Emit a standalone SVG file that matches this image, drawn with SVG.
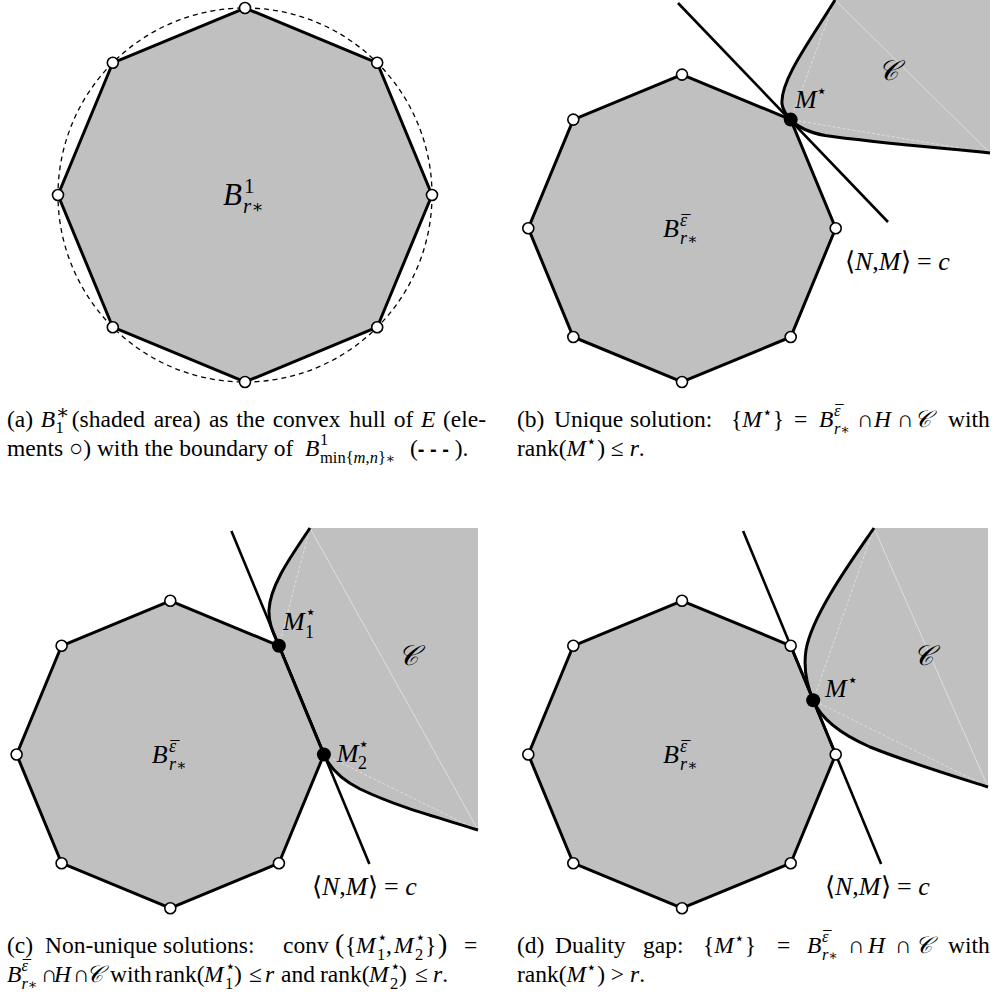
<svg xmlns="http://www.w3.org/2000/svg" width="995" height="996" viewBox="0 0 995 996" font-family="'Liberation Serif', 'Times New Roman', serif">
<style>
.oct{fill:#c0c0c0;stroke:#000;stroke-width:3;stroke-linejoin:miter}
.reg{fill:#c0c0c0;stroke:none}
.cur{fill:none;stroke:#000;stroke-width:3}
.hyp{stroke:#000;stroke-width:2.6;fill:none}
.lt{stroke:#e4e4e4;stroke-width:0.8;fill:none}
.ltd{stroke-dasharray:3 2}
.v{fill:#fff;stroke:#000;stroke-width:1.6}
.s{fill:#000}
.dash{fill:none;stroke:#000;stroke-width:1.3;stroke-dasharray:5 4}
text{font-family:'Liberation Serif','Times New Roman',serif;fill:#000}
.it{font-style:italic}
.cap{font-size:23.5px}
.sc{font-size:16.5px}
.lb{font-size:26px}
.ls{font-size:18px}
.ast{font-family:'DejaVu Serif',serif;font-style:normal;font-size:0.85em}
.cal{font-family:'DejaVu Serif','Liberation Serif',serif;font-style:italic}
</style>

<g id="panel-a">
  <polygon class="oct" points="432,195 377.2,327.2 245,382 112.8,327.2 58,195 112.8,62.8 245,8 377.2,62.8"/>
  <circle class="dash" cx="245" cy="195" r="187"/>
  <g id="a-elements">
    <circle class="v" cx="432" cy="195" r="5.5"/>
    <circle class="v" cx="377.2" cy="327.2" r="5.5"/>
    <circle class="v" cx="245" cy="382" r="5.5"/>
    <circle class="v" cx="112.8" cy="327.2" r="5.5"/>
    <circle class="v" cx="58" cy="195" r="5.5"/>
    <circle class="v" cx="112.8" cy="62.8" r="5.5"/>
    <circle class="v" cx="245" cy="8" r="5.5"/>
    <circle class="v" cx="377.2" cy="62.8" r="5.5"/>
  </g>
  <text class="it" x="223" y="205" font-size="31">B</text>
  <text x="244" y="193" font-size="21">1</text>
  <text class="it" x="243" y="213" font-size="21">r<tspan class="ast">∗</tspan></text>
</g>

<g id="panel-b">
  <path class="reg" d="M835,0 C812,38 780,80 782,104 C783,111 786,114.7 790.7,119.6 C797,126.2 806,132 825,135.5 C870,142 930,147 990,153 L990,0 Z"/>
  <path class="lt" d="M835,0 L990,153"/>
  <path class="lt ltd" d="M835,0 L790.7,119.6 L990,153"/>
  <path class="cur" d="M835,0 C812,38 780,80 782,104 C783,111 786,114.7 790.7,119.6 C797,126.2 806,132 825,135.5 C870,142 930,147 990,153"/>
  <polygon class="oct" points="835.7,228.3 790.7,337 682,382 573.3,337 528.3,228.3 573.3,119.6 682,74.6 790.7,119.6"/>
  <line class="hyp" x1="678" y1="3" x2="888" y2="222"/>
  <circle class="v" cx="835.7" cy="228.3" r="5.5"/>
  <circle class="v" cx="790.7" cy="337" r="5.5"/>
  <circle class="v" cx="682" cy="382" r="5.5"/>
  <circle class="v" cx="573.3" cy="337" r="5.5"/>
  <circle class="v" cx="528.3" cy="228.3" r="5.5"/>
  <circle class="v" cx="573.3" cy="119.6" r="5.5"/>
  <circle class="v" cx="682" cy="74.6" r="5.5"/>
  <circle class="s" cx="790.7" cy="119.6" r="7"/>
  <text class="it lb" x="663" y="237">B</text>
  <text class="it ls" x="680" y="226">ε</text>
  <text class="ls" x="681.5" y="227.5">¯</text>
  <text class="it ls" x="680" y="244">r<tspan class="ast">∗</tspan></text>
  <text class="it lb" x="795" y="108">M</text>
  <text class="ls" x="816" y="97">⋆</text>
  <text class="cal" x="878" y="80" font-size="28">𝒞</text>
  <text class="lb" x="845" y="270">⟨<tspan class="it">N</tspan>,<tspan class="it">M</tspan>⟩ = <tspan class="it">c</tspan></text>
</g>

<g id="panel-c">
  <path class="reg" d="M310,528 C292,555 270,585 269,610 C268.5,625 274.5,635 278.9,645.8 L323.9,754.5 C329,766 338,778 360,789 C400,808 440,818 478,830 L478,528 Z"/>
  <path class="lt" d="M310,528 L478,830"/>
  <path class="lt ltd" d="M278.9,645.8 L310,528 M323.9,754.5 L478,830"/>
  <path class="cur" d="M310,528 C292,555 270,585 269,610 C268.5,625 274.5,635 278.9,645.8 L323.9,754.5 C329,766 338,778 360,789 C400,808 440,818 478,830"/>
  <polygon class="oct" points="323.9,754.5 278.9,863.2 170.3,908.2 61.6,863.2 16.6,754.5 61.6,645.8 170.3,600.8 278.9,645.8"/>
  <line class="hyp" x1="231.4" y1="531" x2="369.4" y2="864"/>
  <circle class="v" cx="278.9" cy="863.2" r="5.5"/>
  <circle class="v" cx="170.3" cy="908.2" r="5.5"/>
  <circle class="v" cx="61.6" cy="863.2" r="5.5"/>
  <circle class="v" cx="16.6" cy="754.5" r="5.5"/>
  <circle class="v" cx="61.6" cy="645.8" r="5.5"/>
  <circle class="v" cx="170.3" cy="600.8" r="5.5"/>
  <circle class="s" cx="278.9" cy="645.8" r="7"/>
  <circle class="s" cx="323.9" cy="754.5" r="7"/>
  <text class="it lb" x="151.7" y="763.3">B</text>
  <text class="it ls" x="169" y="752">ε</text>
  <text class="ls" x="170.5" y="753.5">¯</text>
  <text class="it ls" x="169" y="770">r<tspan class="ast">∗</tspan></text>
  <text class="it lb" x="283" y="630">M</text>
  <text class="ls" x="305" y="618">⋆</text>
  <text class="ls" x="305" y="638">1</text>
  <text class="it lb" x="336.7" y="762">M</text>
  <text class="ls" x="358" y="750">⋆</text>
  <text class="ls" x="358" y="769">2</text>
  <text class="cal" x="398" y="665" font-size="28">𝒞</text>
  <text class="lb" x="312" y="895">⟨<tspan class="it">N</tspan>,<tspan class="it">M</tspan>⟩ = <tspan class="it">c</tspan></text>
</g>

<g id="panel-d">
  <path class="reg" d="M874,528 C852,560 812,615 806,650 C803,670 808,688 813.2,700.2 C820,717 838,733 870,747 C910,763 950,775 988,787 L988,528 Z"/>
  <path class="lt" d="M874,528 L988,787"/>
  <path class="lt ltd" d="M874,528 L813.2,700.2 L988,787"/>
  <path class="cur" d="M874,528 C852,560 812,615 806,650 C803,670 808,688 813.2,700.2 C820,717 838,733 870,747 C910,763 950,775 988,787"/>
  <polygon class="oct" points="835.7,754.5 790.7,863.2 682,908.2 573.3,863.2 528.3,754.5 573.3,645.8 682,600.8 790.7,645.8"/>
  <line class="hyp" x1="743.1" y1="531" x2="881.1" y2="864"/>
  <circle class="v" cx="835.7" cy="754.5" r="5.5"/>
  <circle class="v" cx="790.7" cy="863.2" r="5.5"/>
  <circle class="v" cx="682" cy="908.2" r="5.5"/>
  <circle class="v" cx="573.3" cy="863.2" r="5.5"/>
  <circle class="v" cx="528.3" cy="754.5" r="5.5"/>
  <circle class="v" cx="573.3" cy="645.8" r="5.5"/>
  <circle class="v" cx="682" cy="600.8" r="5.5"/>
  <circle class="v" cx="790.7" cy="645.8" r="5.5"/>
  <circle class="s" cx="813.2" cy="700.2" r="7"/>
  <text class="it lb" x="663" y="763.3">B</text>
  <text class="it ls" x="680" y="752">ε</text>
  <text class="ls" x="681.5" y="753.5">¯</text>
  <text class="it ls" x="680" y="770">r<tspan class="ast">∗</tspan></text>
  <text class="it lb" x="825" y="697">M</text>
  <text class="ls" x="847" y="686">⋆</text>
  <text class="cal" x="913" y="665" font-size="28">𝒞</text>
  <text class="lb" x="825" y="895">⟨<tspan class="it">N</tspan>,<tspan class="it">M</tspan>⟩ = <tspan class="it">c</tspan></text>
</g>

<g id="captions">
  <text class="cap" y="427"><tspan x="7">(a)</tspan><tspan x="40.8" class="it">B</tspan><tspan x="56" y="419" class="sc ast">∗</tspan><tspan x="55.5" y="433" class="sc">1</tspan><tspan x="71.8" y="427">(shaded</tspan><tspan x="153.7">area)</tspan><tspan x="208.9">as</tspan><tspan x="236.2">the</tspan><tspan x="272.7">convex</tspan><tspan x="349.3">hull</tspan><tspan x="393.8">of</tspan><tspan x="421.1" class="it">E</tspan><tspan x="443">(ele-</tspan></text>
  <text class="cap" y="455.5"><tspan x="7">ments ○) with the boundary of </tspan><tspan x="305" class="it">B</tspan><tspan x="320" y="445" class="sc">1</tspan><tspan x="320" y="463" class="sc">min{<tspan class="it">m</tspan>,<tspan class="it">n</tspan>}<tspan class="ast">∗</tspan></tspan><tspan x="410" y="455.5">(</tspan><tspan font-family="Liberation Sans" font-weight="bold" font-size="20">- - -</tspan><tspan> ).</tspan></text>

  <text class="cap" y="427"><tspan x="517">(b)</tspan><tspan x="554">Unique</tspan><tspan x="630">solution:</tspan><tspan x="731">{</tspan><tspan class="it">M</tspan><tspan class="sc" dy="-9">⋆</tspan><tspan dy="9">}</tspan><tspan x="794">=</tspan><tspan x="819" class="it">B</tspan><tspan x="834" y="416" class="sc it">ε</tspan><tspan x="835.3" y="417" class="sc">¯</tspan><tspan x="834" y="434" class="sc it">r<tspan class="ast">∗</tspan></tspan><tspan x="857" y="427">∩</tspan><tspan x="874" class="it">H</tspan><tspan x="897">∩</tspan><tspan x="914" class="cal">𝒞</tspan><tspan x="948">with</tspan></text>
  <text class="cap" y="455.5"><tspan x="517">rank(</tspan><tspan class="it">M</tspan><tspan class="sc" dy="-9">⋆</tspan><tspan dy="9">) ≤ </tspan><tspan class="it">r</tspan>.</text>

  <text class="cap" y="953"><tspan x="7">(c)</tspan><tspan x="45">Non-unique</tspan><tspan x="163">solutions:</tspan><tspan x="283">conv</tspan><tspan x="335" font-size="28">(</tspan><tspan x="345">{</tspan><tspan x="356" class="it">M</tspan><tspan x="377" y="943" class="sc">⋆</tspan><tspan x="377" y="960" class="sc">1</tspan><tspan x="386" y="953">,</tspan><tspan x="394" class="it">M</tspan><tspan x="415" y="943" class="sc">⋆</tspan><tspan x="415" y="960" class="sc">2</tspan><tspan x="425" y="953">}</tspan><tspan x="438" font-size="28">)</tspan><tspan x="464">=</tspan></text>
  <text class="cap" y="982"><tspan x="7" class="it">B</tspan><tspan x="21.5" y="971" class="sc it">ε</tspan><tspan x="22.8" y="972" class="sc">¯</tspan><tspan x="21.5" y="989" class="sc it">r<tspan class="ast">∗</tspan></tspan><tspan x="41" y="982">∩</tspan><tspan x="54" class="it">H</tspan><tspan x="73">∩</tspan><tspan x="86" class="cal">𝒞</tspan><tspan x="110">with</tspan><tspan x="155">rank(</tspan><tspan x="204" class="it">M</tspan><tspan x="225" y="972" class="sc">⋆</tspan><tspan x="225" y="989" class="sc">1</tspan><tspan x="234" y="982">)</tspan><tspan x="249">≤</tspan><tspan x="265" class="it">r</tspan><tspan x="281">and</tspan><tspan x="320">rank(</tspan><tspan x="369" class="it">M</tspan><tspan x="390" y="972" class="sc">⋆</tspan><tspan x="390" y="989" class="sc">2</tspan><tspan x="399" y="982">)</tspan><tspan x="415">≤</tspan><tspan x="433" class="it">r</tspan>.</text>

  <text class="cap" y="953"><tspan x="517">(d)</tspan><tspan x="555">Duality</tspan><tspan x="643">gap:</tspan><tspan x="703">{</tspan><tspan class="it">M</tspan><tspan class="sc" dy="-9">⋆</tspan><tspan dy="9">}</tspan><tspan x="777">=</tspan><tspan x="807" class="it">B</tspan><tspan x="822" y="942" class="sc it">ε</tspan><tspan x="823.3" y="943" class="sc">¯</tspan><tspan x="822" y="960" class="sc it">r<tspan class="ast">∗</tspan></tspan><tspan x="848" y="953">∩</tspan><tspan x="868" class="it">H</tspan><tspan x="895">∩</tspan><tspan x="915" class="cal">𝒞</tspan><tspan x="948">with</tspan></text>
  <text class="cap" y="982"><tspan x="517">rank(</tspan><tspan class="it">M</tspan><tspan class="sc" dy="-9">⋆</tspan><tspan dy="9">) &gt; </tspan><tspan class="it">r</tspan>.</text>
</g>
</svg>
